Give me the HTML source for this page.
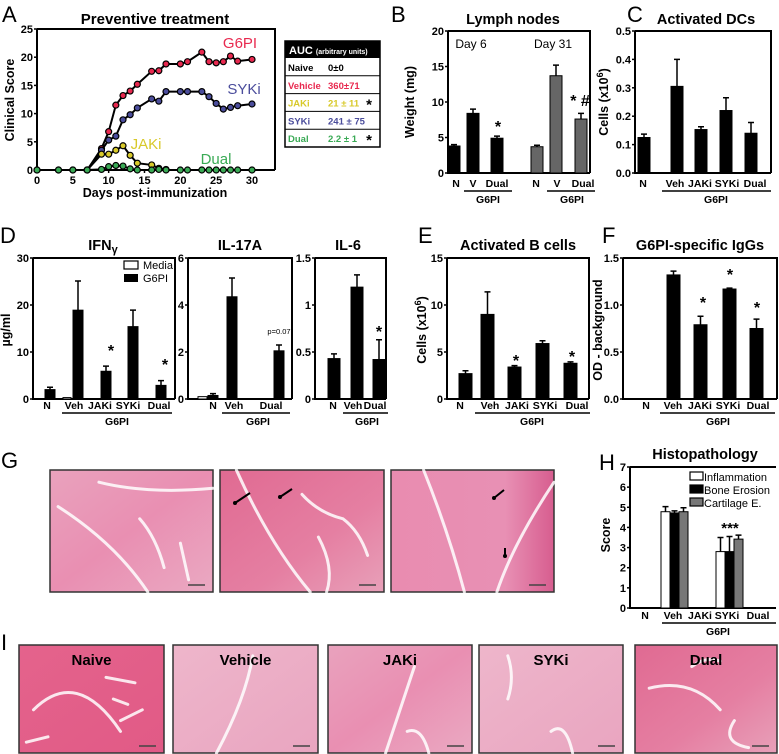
<!DOCTYPE html>
<html><head><meta charset="utf-8"><style>
html,body{margin:0;padding:0;background:#fff;}
svg{display:block;font-family:"Liberation Sans",Arial,sans-serif;}
</style></head><body>
<svg id="fig" width="779" height="754" viewBox="0 0 779 754" xmlns="http://www.w3.org/2000/svg">
<defs>
<linearGradient id="pk1" x1="0" y1="0" x2="1" y2="1"><stop offset="0" stop-color="#e9a2bd"/><stop offset="0.5" stop-color="#e98fb2"/><stop offset="1" stop-color="#eaa9c2"/></linearGradient>
<linearGradient id="pk2" x1="0" y1="0" x2="1" y2="1"><stop offset="0" stop-color="#e06a92"/><stop offset="0.6" stop-color="#e57fa2"/><stop offset="1" stop-color="#e8a0b9"/></linearGradient>
<linearGradient id="pk3" x1="0" y1="0" x2="1" y2="0"><stop offset="0" stop-color="#e98cb0"/><stop offset="0.7" stop-color="#e890b4"/><stop offset="1" stop-color="#d75d8f"/></linearGradient>
<linearGradient id="pk4" x1="0" y1="0" x2="1" y2="1"><stop offset="0" stop-color="#e4638c"/><stop offset="1" stop-color="#e15a86"/></linearGradient>
<linearGradient id="pk5" x1="0" y1="0" x2="1" y2="1"><stop offset="0" stop-color="#eeb6cb"/><stop offset="1" stop-color="#e9a5c0"/></linearGradient>
</defs>
</svg>
<script>
// ---------- DATA ----------
const daysG6PI = [0,3,5,7,9,10,11,12,13,14,16,17,18,20,21,23,24,25,26,27,28,30];
const scoreG6PI = [0,0,0,0,3.8,6.8,11.5,13.2,14,15.2,17.5,17.6,18.8,18.8,19.2,20.9,19.2,19,19.2,20.2,19.3,19.6];
const daysSYKi = [7,9,10,11,12,13,14,16,17,18,20,21,23,24,25,26,27,28,30];
const scoreSYKi = [0,3.5,5.3,6,8.9,9.8,11,12.6,12.2,13.9,13.9,13.9,13.9,13,11.8,10.8,11.1,11.4,11.7];
const daysJAKi = [7,9,10,11,12,13,14,16,17,18];
const scoreJAKi = [0,2.8,2.8,3.5,4.3,2.6,1.2,0.9,0.3,0.1];
const daysDual = [0,3,5,7,9,10,11,12,13,14,16,17,18,20,21,23,24,25,26,27,28,30];
const scoreDual = [0,0,0,0,0.1,0.6,0.8,0.7,0.2,0,0,0.1,0,0,0,0,0,0,0,0,0,0];
const aucGroups = ["Naive","Vehicle","JAKi","SYKi","Dual"];
const aucValues = ["0\u00b10","360\u00b171","21 \u00b1 11","241 \u00b1 75","2.2 \u00b1 1"];
const aucStars = ["","","*","","*"];

const lnDay6 = [3.8,8.4,4.9];      const lnDay6Err = [0.2,0.6,0.3];
const lnDay31 = [3.7,13.7,7.6];    const lnDay31Err = [0.2,1.5,0.8];
const dcValues = [0.125,0.305,0.153,0.22,0.14]; const dcErr = [0.012,0.095,0.01,0.045,0.038];
const ifnMedia = [0.1,0.3,0.1,0.05,0.1]; const ifnG6PI = [2,18.9,5.9,15.4,2.9]; const ifnErr = [0.5,6.2,1.1,3.5,1];
const il17Media = [0.1,0,0]; const il17G6PI = [0.15,4.35,2.05]; const il17Err = [0.08,0.8,0.25];
const il6G6PI = [0.43,1.19,0.42]; const il6Err = [0.05,0.13,0.21];
const bValues = [2.7,9,3.4,5.9,3.8]; const bErr = [0.3,2.4,0.15,0.3,0.15];
const iggValues = [0,1.32,0.79,1.17,0.75]; const iggErr = [0,0.04,0.09,0.01,0.1];
const histoInfl = [0,4.78,0,2.8,0]; const histoBone = [0,4.72,0,2.8,0]; const histoCart = [0,4.78,0,3.42,0];
const histoInflErr = [0,0.25,0,0.7,0]; const histoBoneErr = [0,0.1,0,0.75,0]; const histoCartErr = [0,0.2,0,0.2,0];

// ---------- HELPERS ----------
const NS="http://www.w3.org/2000/svg";
const svg=document.getElementById('fig');
function mk(tag,attrs,parent){const e=document.createElementNS(NS,tag);for(const k in attrs)e.setAttribute(k,attrs[k]);(parent||svg).appendChild(e);return e;}
function txt(s,x,y,size,opts,parent){opts=opts||{};const t=mk('text',{x:x,y:y,'font-size':size,'font-weight':opts.w||'bold','text-anchor':opts.a||'middle',fill:opts.c||'#000'},parent);if(opts.rot)t.setAttribute('transform','rotate(-90 '+x+' '+y+')');t.textContent=s;return t;}
function grp(name){const g=mk('g',{});return g;}
function yScale(y0,y1,max){return v=>y0-(y0-y1)*v/max;}
function axes(g,x0,x1,y0,y1,ticks,labels,topLine){
  const ax=mk('path',{d:`M${x0} ${y1}V${y0}H${x1}`+(topLine?`M${x0} ${y1}H${x1}V${y0}`:''),stroke:'#000','stroke-width':2,fill:'none'},g);
  
  const ys=yScale(y0,y1,ticks[ticks.length-1]);
  ticks.forEach((t,i)=>{mk('line',{x1:x0-3,x2:x0,y1:ys(t),y2:ys(t),stroke:'#000','stroke-width':1.5},g);
    const l=txt(labels[i],x0-4,ys(t)+4,11,{a:'end'},g);
    });
  return ys;
}
function bar(g,x,w,v,err,ys,fill,name){
  const y=ys(v),y0=ys(0);
  if(err>0){const e=mk('path',{d:`M${x+w/2} ${y}V${ys(v+err)}M${x+w/2-3} ${ys(v+err)}H${x+w/2+3}`,stroke:'#000','stroke-width':1.5,fill:'none'},g);
    }
  const r=mk('rect',{x:x,y:Math.min(y,y0-0.5),width:w,height:Math.max(y0-y,0.5),fill:fill,stroke:'#000','stroke-width':1},g);
  
  return r;
}
function groupLabels(g,labels,xs,y,lineFrom,lineTo,g6x){
  labels.forEach((s,i)=>{const t=txt(s,xs[i],y,10.5,{},g);});
  mk('line',{x1:lineFrom,x2:lineTo,y1:y+4,y2:y+4,stroke:'#000','stroke-width':1.5},g);
  const t=txt('G6PI',g6x,y+16,10.5,{},g);
}
function panelLetter(s,x,y){const t=txt(s,x,y,22,{w:'normal',a:'start'});}

// ---------- PANEL A ----------
panelLetter('A',2,22);
(function(){
  const g=grp('panel-a-clinical-score');
  const t=txt('Preventive treatment',155,24,15,{},g);
  const x0=37,y0=170,y1=29;
  const xs=d=>37+d*(252-37)/30;
  const ys=axes(g,x0,275,y0,y1,[0,5,10,15,20,25],['0','5','10','15','20','25'],true);
  [0,5,10,15,20,25,30].forEach(d=>{mk('line',{x1:xs(d),x2:xs(d),y1:y0,y2:y0+3,stroke:'#000','stroke-width':1.5},g);
    const l=txt(String(d),xs(d),y0+14,11,{},g);});
  const xl=txt('Days post-immunization',155,197,12.5,{},g);
  const yl=txt('Clinical Score',14,100,12.5,{rot:1},g);
  const series=[[daysG6PI,scoreG6PI,'#e8294f','g6pi'],[daysSYKi,scoreSYKi,'#4b4d9c','syki'],[daysJAKi,scoreJAKi,'#d8c92a','jaki'],[daysDual,scoreDual,'#3aaa55','dual']];
  series.forEach(s=>{
    const p=mk('polyline',{points:s[0].map((d,i)=>xs(d)+','+ys(s[1][i])).join(' '),fill:'none',stroke:'#000','stroke-width':2},g);
    
    s[0].forEach((d,i)=>{const c=mk('circle',{cx:xs(d),cy:ys(s[1][i]),r:3,fill:s[2],stroke:'#000','stroke-width':1.2},g);
      });
  });
  const l1=txt('G6PI',240,48,15,{w:'normal',c:'#e8294f'},g);
  const l2=txt('SYKi',244,94,15,{w:'normal',c:'#4b4d9c'},g);
  const l3=txt('JAKi',146,149,15,{w:'normal',c:'#d8c92a'},g);
  const l4=txt('Dual',216,164,15,{w:'normal',c:'#3aaa55'},g);
  const tb=grp('auc-table');
  mk('rect',{x:285,y:41,width:95,height:106,fill:'#fff',stroke:'#000','stroke-width':1.5},tb);
  mk('rect',{x:285,y:41,width:95,height:17,fill:'#000'},tb);
  const h=mk('text',{x:289,y:54,'font-size':11,'font-weight':'bold',fill:'#fff'},tb);h.textContent='AUC ';
  const hs=mk('tspan',{'font-size':7},h);hs.textContent='(arbitrary units)';
  
  const cols=['#000','#e8294f','#d8c92a','#4b4d9c','#3aaa55'];
  aucGroups.forEach((n,i)=>{const y=58+i*17.8;
    if(i>0)mk('line',{x1:285,x2:380,y1:y,y2:y,stroke:'#000','stroke-width':1},tb);
    const a=txt(n,288,y+13,9.5,{a:'start',c:cols[i]},tb);
    const b=txt(aucValues[i],328,y+13,9.5,{a:'start',c:cols[i]},tb);
    if(aucStars[i]){const s=txt(aucStars[i],369,y+16,15,{},tb);}
  });
})();

// ---------- PANEL B ----------
panelLetter('B',391,22);
(function(){
  const g=grp('panel-b-lymph-nodes');
  const t=txt('Lymph nodes',513,24,14.5,{},g);
  const ys=axes(g,448,590,173,31,[0,5,10,15,20],['0','5','10','15','20'],true);
  const yl=txt('Weight (mg)',414,102,12.5,{rot:1},g);
  const d1=txt('Day 6',471,48,12,{w:'normal'},g);
  const d2=txt('Day 31',553,48,12,{w:'normal'},g);
  const c1=[454,473,497],c2=[537,556,581];
  lnDay6.forEach((v,i)=>bar(g,c1[i]-6,12,v,lnDay6Err[i],ys,'#000','bar-day6-'+i));
  lnDay31.forEach((v,i)=>bar(g,c2[i]-6,12,v,lnDay31Err[i],ys,'#666','bar-day31-'+i));
  const s1=txt('*',498,132,16,{},g);
  const s2=txt('* #',580,106,16,{},g);
  groupLabels(g,['N','V','Dual'],[456,473,497],187,464,512,488);
  groupLabels(g,['N','V','Dual'],[536,557,583],187,547,595,572);
})();

// ---------- PANEL C ----------
panelLetter('C',627,22);
(function(){
  const g=grp('panel-c-activated-dcs');
  const t=txt('Activated DCs',706,24,14.5,{},g);
  const ys=axes(g,635,771,173,31,[0,0.1,0.2,0.3,0.4,0.5],['0.0','0.1','0.2','0.3','0.4','0.5'],true);
  const yl=mk('text',{x:608,y:102,'font-size':12.5,'font-weight':'bold','text-anchor':'middle',transform:'rotate(-90 608 102)'},g);
  yl.textContent='Cells (x10';const sp=mk('tspan',{dy:-5,'font-size':9},yl);sp.textContent='6';const sp2=mk('tspan',{dy:5},yl);sp2.textContent=')';
  
  const cx=[644,677,701,726,751];
  dcValues.forEach((v,i)=>bar(g,cx[i]-6,12,v,dcErr[i],ys,'#000','bar-dc-'+i));
  groupLabels(g,['N','Veh','JAKi','SYKi','Dual'],[643,675,700,727,755],187,662,771,716);
})();

// ---------- PANEL D ----------
panelLetter('D',0,243);
(function(){
  const g=grp('panel-d-ifng');
  const t=mk('text',{x:103,y:250,'font-size':14.5,'font-weight':'bold','text-anchor':'middle'},g);t.textContent='IFN';const ts=mk('tspan',{'font-size':11,dy:3},t);ts.textContent='\u03b3';
  
  const ys=axes(g,33,175,399,258,[0,10,20,30],['0','10','20','30'],true);
  const yl=txt('\u00b5g/ml',10,330,12.5,{rot:1},g);
  const cx=[47,75,103,130,158];
  ifnMedia.forEach((v,i)=>bar(g,cx[i]-12,8,v,0,ys,'#fff','bar-ifng-media-'+i));
  ifnG6PI.forEach((v,i)=>bar(g,cx[i]-2,10,v,ifnErr[i],ys,'#000','bar-ifng-g6pi-'+i));
  [[111,356],[165,370]].forEach(p=>{const s=txt('*',p[0],p[1],16,{},g);});
  const lg=grp('legend');g.appendChild(lg);
  mk('rect',{x:124,y:261,width:14,height:8,fill:'#fff',stroke:'#000','stroke-width':1.2},lg);
  const a=txt('Media',143,269,11,{w:'normal',a:'start'},lg);
  mk('rect',{x:124,y:274,width:14,height:8,fill:'#000'},lg);
  const b=txt('G6PI',143,282,11,{w:'normal',a:'start'},lg);
  groupLabels(g,['N','Veh','JAKi','SYKi','Dual'],[47,74,100,128,159],409,62,172,117);
})();
(function(){
  const g=grp('panel-d-il17a');
  const t=txt('IL-17A',240,250,14.5,{},g);
  const ys=axes(g,188,292,399,258,[0,2,4,6],['0','2','4','6'],true);
  const cm=[203,225,270],cg=[213,232,279];
  il17Media.forEach((v,i)=>bar(g,cm[i]-5,9,v,0,ys,'#fff','bar-il17a-media-'+i));
  il17G6PI.forEach((v,i)=>bar(g,cg[i]-5,10,v,il17Err[i],ys,'#000','bar-il17a-g6pi-'+i));
  const p=txt('p=0.07',279,334,7.5,{w:'normal'},g);
  groupLabels(g,['N','Veh','Dual'],[213,234,271],409,222,290,258);
})();
(function(){
  const g=grp('panel-d-il6');
  const t=txt('IL-6',348,250,14.5,{},g);
  const ys=axes(g,315,386,399,258,[0,0.5,1,1.5],['0','0.5','1','1.5'],true);
  const cx=[334,357,379];
  il6G6PI.forEach((v,i)=>bar(g,cx[i]-6,12,v,il6Err[i],ys,'#000','bar-il6-g6pi-'+i));
  const s=txt('*',379,337,16,{},g);
  groupLabels(g,['N','Veh','Dual'],[333,353,375],409,343,388,367);
})();

// ---------- PANEL E ----------
panelLetter('E',418,243);
(function(){
  const g=grp('panel-e-activated-b-cells');
  const t=txt('Activated B cells',518,250,14.5,{},g);
  const ys=axes(g,447,589,399,258,[0,5,10,15],['0','5','10','15'],true);
  const yl=mk('text',{x:426,y:330,'font-size':12.5,'font-weight':'bold','text-anchor':'middle',transform:'rotate(-90 426 330)'},g);
  yl.textContent='Cells (x10';const sp=mk('tspan',{dy:-5,'font-size':9},yl);sp.textContent='6';const sp2=mk('tspan',{dy:5},yl);sp2.textContent=')';
  
  const cx=[466,488,515,543,571];
  bValues.forEach((v,i)=>bar(g,cx[i]-7,13,v,bErr[i],ys,'#000','bar-bcells-'+i));
  [[516,366],[572,362]].forEach(p=>{const s=txt('*',p[0],p[1],16,{},g);});
  groupLabels(g,['N','Veh','JAKi','SYKi','Dual'],[460,490,517,545,577],409,475,590,532);
})();

// ---------- PANEL F ----------
panelLetter('F',602,243);
(function(){
  const g=grp('panel-f-igg');
  const t=txt('G6PI-specific IgGs',700,250,14.5,{},g);
  const ys=axes(g,623,777,399,258,[0,0.5,1,1.5],['0.0','0.5','1.0','1.5'],true);
  const yl=txt('OD - background',602,330,12.5,{rot:1},g);
  const cx=[647,674,701,730,757];
  iggValues.forEach((v,i)=>{if(v>0)bar(g,cx[i]-7,13,v,iggErr[i],ys,'#000','bar-igg-'+i);});
  [[703,308],[730,280],[757,313]].forEach(p=>{const s=txt('*',p[0],p[1],16,{},g);});
  groupLabels(g,['N','Veh','JAKi','SYKi','Dual'],[646,673,700,728,758],409,660,775,718);
})();

// ---------- PANEL G (photos) ----------
panelLetter('G',1,468);
function photo(x,y,w,h,fill,name,label,streaks){
  const g=grp(name);
  mk('rect',{x:x,y:y,width:w,height:h,fill:fill,stroke:'#333','stroke-width':1.5},g);
  streaks.forEach(s=>{mk('path',{d:s.replace(/([\d.]+),([\d.]+)/g,(m,a,b)=>(x+w*a/100).toFixed(1)+','+(y+h*b/100).toFixed(1)),fill:'none',stroke:'#fff','stroke-width':3,'stroke-opacity':0.85,'stroke-linecap':'round'},g);});
  mk('line',{x1:x+w-25,x2:x+w-8,y1:y+h-7,y2:y+h-7,stroke:'#444','stroke-width':1.5},g);
  if(label){const t=txt(label,x+w/2,y+20,15,{},g);}
  return g;
}
const streakA=['M5,30 Q40,60 60,100','M30,10 Q60,20 100,15','M55,40 Q65,55 70,80','M80,60 L85,90'];
photo(50,470,163,122,'url(#pk1)','photo-g-1',null,streakA);
photo(220,470,164,122,'url(#pk2)','photo-g-2',null,['M50,20 Q60,35 75,40 Q85,50 90,70','M10,0 Q30,60 55,100','M60,55 Q70,80 65,100']);
photo(391,470,163,122,'url(#pk3)','photo-g-3',null,['M100,10 Q75,60 65,100','M20,0 Q35,50 45,100']);
[[250,493,235,503],[292,489,280,497],[504,490,494,498],[505,548,505,556]].forEach(a=>{const p=mk('path',{d:`M${a[0]} ${a[1]}L${a[2]} ${a[3]}`,stroke:'#000','stroke-width':2});
  const hd=mk('circle',{cx:a[2],cy:a[3],r:2,fill:'#000'});});

// ---------- PANEL H ----------
txt('H',599,470,22,{w:'normal',a:'start'});
(function(){
  const g=grp('panel-h-histopathology');
  const t=txt('Histopathology',705,459,14.5,{},g);
  const ys=axes(g,630,776,608,467,[0,1,2,3,4,5,6,7],['0','1','2','3','4','5','6','7'],false);
  mk('line',{x1:630,x2:776,y1:467,y2:467,stroke:'#000','stroke-width':2},g);
  const yl=txt('Score',610,535,12.5,{rot:1},g);
  const cx=[646,675,702,730,758];
  histoInfl.forEach((v,i)=>{if(v>0)bar(g,cx[i]-14,9,v,histoInflErr[i],ys,'#fff','bar-inflammation-'+i);});
  histoBone.forEach((v,i)=>{if(v>0)bar(g,cx[i]-5,9,v,histoBoneErr[i],ys,'#000','bar-bone-erosion-'+i);});
  histoCart.forEach((v,i)=>{if(v>0)bar(g,cx[i]+4,9,v,histoCartErr[i],ys,'#777','bar-cartilage-'+i);});
  const s=txt('***',730,533,15,{},g);
  const names=['Inflammation','Bone Erosion','Cartilage E.'],fills=['#fff','#000','#777'];
  names.forEach((n,i)=>{const y=471+i*13;mk('rect',{x:690,y:y+1,width:13,height:8,fill:fills[i],stroke:'#000','stroke-width':1.2},g);
    const l=txt(n,704,y+10,11,{w:'normal',a:'start'},g);});
  groupLabels(g,['N','Veh','JAKi','SYKi','Dual'],[645,673,700,727,758],619,662,776,718);
})();

// ---------- PANEL I ----------
panelLetter('I',1,650);
photo(19,645,145,108,'url(#pk4)','photo-i-naive','Naive',['M10,60 Q40,20 70,80','M60,30 L80,35','M65,50 L75,55','M70,70 L85,60','M5,90 L20,85']);
photo(173,645,145,108,'url(#pk5)','photo-i-vehicle','Vehicle',['M30,100 Q50,50 55,10']);
photo(328,645,144,108,'url(#pk1)','photo-i-jaki','JAKi',['M40,100 Q50,60 60,20','M55,80 Q65,75 70,100']);
photo(479,645,144,108,'url(#pk5)','photo-i-syki','SYKi',['M20,10 Q25,30 20,50','M50,80 Q60,70 65,100']);
photo(635,645,142,108,'url(#pk2)','photo-i-dual','Dual',['M10,40 Q40,30 60,60','M40,20 Q50,10 60,15','M70,70 Q60,90 80,95']);
</script>
</body></html>
